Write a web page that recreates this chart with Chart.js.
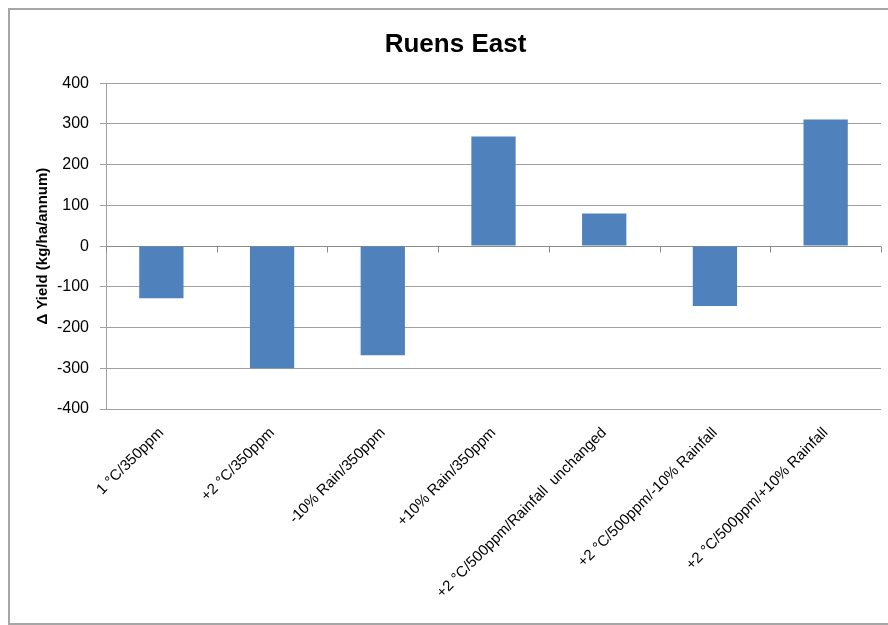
<!DOCTYPE html>
<html>
<head>
<meta charset="utf-8">
<script src="https://cdn.jsdelivr.net/npm/chart.js@4.4.1/dist/chart.umd.min.js"></script>
<style>
  html, body { margin: 0; padding: 0; background: #fff; }
  #wrap { position: relative; width: 888px; height: 625px; overflow: hidden; }
  #frame { position: absolute; left: 8px; top: 8px; width: 900px; height: 613px; border: 2px solid #a6a6a6; }
  #chart { position: absolute; left: 0; top: 0; }
</style>
</head>
<body>
<div id="wrap">
  <div id="frame"></div>
  <canvas id="chart" width="888" height="625"></canvas>
</div>
<script>
// scenarios and yield change (kg/ha/annum)
const scenarios = [
  '1 °C/350ppm',
  '+2 °C/350ppm',
  '-10% Rain/350ppm',
  '+10% Rain/350ppm',
  '+2 °C/500ppm/Rainfall  unchanged',
  '+2 °C/500ppm/-10% Rainfall',
  '+2 °C/500ppm/+10% Rainfall'
];
const yieldChange = [-128, -300, -268, 269, 80, -147, 311];
const yMin = -400, yMax = 400, yStep = 100;

const FONT = "'Liberation Sans', Arial, sans-serif";
const GRID = '#a0a0a0';

// Excel style: category axis crosses at zero, with tick marks between categories
const zeroAxis = {
  id: 'zeroAxis',
  beforeDatasetsDraw(chart) {
    const { ctx, chartArea: a, scales: { x, y } } = chart;
    const y0 = Math.round(y.getPixelForValue(0)) + 0.5;
    const n = scenarios.length;
    const step = (a.right - a.left) / n;
    ctx.save();
    ctx.strokeStyle = '#8c8c8c';
    ctx.lineWidth = 1;
    ctx.beginPath();
    ctx.moveTo(a.left, y0);
    ctx.lineTo(a.right, y0);
    for (let i = 0; i <= n; i++) {
      const px = Math.round(a.left + i * step) + 0.5;
      ctx.moveTo(px, y0);
      ctx.lineTo(px, y0 + 6);
    }
    ctx.stroke();
    ctx.restore();
  }
};

new Chart(document.getElementById('chart'), {
  type: 'bar',
  data: {
    labels: scenarios,
    datasets: [{
      data: yieldChange,
      backgroundColor: '#4f81bd',
      borderWidth: 0,
      barPercentage: 0.4,
      categoryPercentage: 1
    }]
  },
  options: {
    responsive: false,
    animation: false,
    // left padding pushes the title centre right; y axis width makes up for it
    layout: { padding: { left: 30, right: 7, top: 0, bottom: 0 } },
    plugins: {
      legend: { display: false },
      tooltip: { enabled: false },
      title: {
        display: true,
        text: 'Ruens East',
        color: '#000',
        font: { family: FONT, size: 26, weight: 'bold' },
        padding: { top: 29, bottom: 23 }
      }
    },
    scales: {
      x: {
        grid: { display: false, drawTicks: false },
        border: { display: false },
        ticks: {
          color: '#000',
          font: { family: FONT, size: 15 },
          maxRotation: 45, minRotation: 45,
          autoSkip: false,
          padding: 15
        },
        afterFit(s) { s.height = 216; }
      },
      y: {
        min: yMin, max: yMax,
        grid: { color: GRID, lineWidth: 1, tickLength: 6, drawTicks: true },
        border: { display: true, color: GRID, width: 1 },
        ticks: {
          stepSize: yStep,
          color: '#000',
          font: { family: FONT, size: 16 },
          padding: 11
        },
        title: {
          display: true,
          text: 'Δ Yield (kg/ha/annum)',
          color: '#000',
          font: { family: FONT, size: 15, weight: 'bold' },
          padding: { top: 4, bottom: 0 }
        },
        afterFit(s) { s.width = 76; }
      }
    }
  },
  plugins: [zeroAxis]
});
</script>
</body>
</html>
